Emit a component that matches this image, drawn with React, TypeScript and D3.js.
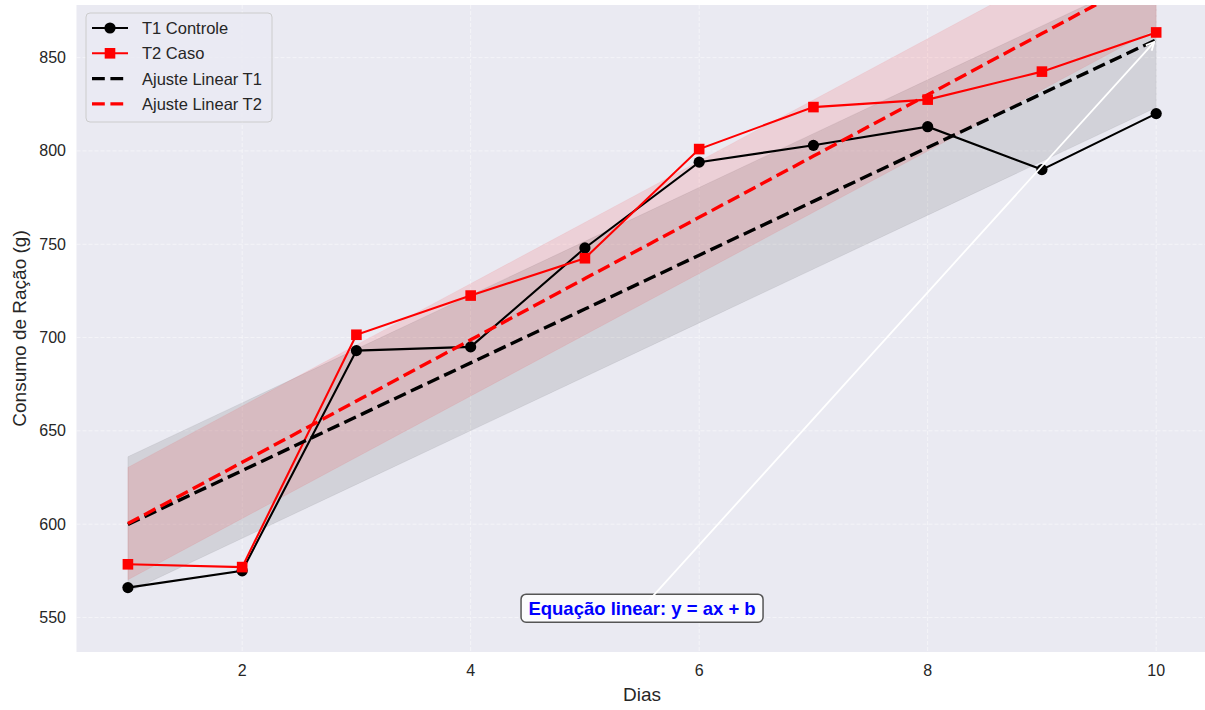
import React from "react";
import * as d3 from "d3";

const days = [1, 2, 3, 4, 5, 6, 7, 8, 9, 10];
const t1Values = [566, 575, 693, 695, 748, 794, 803, 813, 790, 820];
const t2Values = [578.5, 577, 701.5, 722.5, 742.5, 801, 823.5, 827.5, 842.5, 863.5];
const xTicks = [2, 4, 6, 8, 10];
const yTicks = [550, 600, 650, 700, 750, 800, 850];
const legendLabels = ["T1 Controle", "T2 Caso", "Ajuste Linear T1", "Ajuste Linear T2"];
const xLabel = "Dias";
const yLabel = "Consumo de Ração (g)";
const annotationText = "Equação linear: y = ax + b";

const W = 1205;
const H = 710;
const FONT = "'Liberation Sans', Arial, sans-serif";

function linFit(xs: number[], ys: number[]) {
  const mx = d3.mean(xs)!;
  const my = d3.mean(ys)!;
  let sxy = 0, sxx = 0;
  xs.forEach((x, i) => { sxy += (x - mx) * (ys[i] - my); sxx += (x - mx) * (x - mx); });
  const a = sxy / sxx;
  const b = my - a * mx;
  const res = ys.map((y, i) => y - (a * xs[i] + b));
  const sd = Math.sqrt(d3.mean(res.map(r => r * r))!);
  return { a, b, sd, f: (x: number) => a * x + b };
}

export default function App() {
  const x = d3.scaleLinear().domain([0.55, 10.45]).range([76.5, 1207.6]);
  const y = d3.scaleLinear().domain([531.5, 878.2]).range([652, 5]);
  const plotL = 76.5, plotT = 5, plotB = 652, plotR = 1205;

  const fit1 = linFit(days, t1Values);
  const fit2 = linFit(days, t2Values);

  const line = d3.line<[number, number]>().x(d => x(d[0])).y(d => y(d[1]));
  const area = (fit: ReturnType<typeof linFit>) =>
    d3.area<number>()
      .x(d => x(d))
      .y0(d => y(fit.f(d) - fit.sd))
      .y1(d => y(fit.f(d) + fit.sd))(days)!;

  const t1Pts = days.map((d, i) => [d, t1Values[i]] as [number, number]);
  const t2Pts = days.map((d, i) => [d, t2Values[i]] as [number, number]);
  const fit1Pts = days.map(d => [d, fit1.f(d)] as [number, number]);
  const fit2Pts = days.map(d => [d, fit2.f(d)] as [number, number]);

  // annotation
  const tx = x(5.5), ty = y(555);
  const ax = x(10), ay = y(fit1.f(10));
  const ang = Math.atan2(ay - ty, ax - tx);
  const ex = ax - 3 * Math.cos(ang), ey = ay - 3 * Math.sin(ang);
  const hl = 9, hw = 0.45;
  const h1x = ex - hl * Math.cos(ang - hw), h1y = ey - hl * Math.sin(ang - hw);
  const h2x = ex - hl * Math.cos(ang + hw), h2y = ey - hl * Math.sin(ang + hw);

  const lw = 2.1;
  const dashLw = 3.4;

  return (
    <svg width={W} height={H} style={{ position: "fixed", left: 0, top: 0, background: "#fff" }} fontFamily={FONT}>
      <defs>
        <clipPath id="plotclip">
          <rect x={plotL} y={plotT} width={plotR - plotL} height={plotB - plotT} />
        </clipPath>
      </defs>
      <rect x={plotL} y={plotT} width={plotR - plotL} height={plotB - plotT} fill="#eaeaf2" />
      {/* grid */}
      <g stroke="#ffffff" strokeOpacity={0.5} strokeWidth={1} strokeDasharray="4,2">
        {xTicks.map(t => <line key={"gx" + t} x1={x(t)} x2={x(t)} y1={plotT} y2={plotB} />)}
        {yTicks.map(t => <line key={"gy" + t} x1={plotL} x2={plotR} y1={y(t)} y2={y(t)} />)}
      </g>
      <g clipPath="url(#plotclip)">
        <path d={area(fit1)} fill="#000" fillOpacity={0.1} stroke="#000" strokeOpacity={0.06} strokeWidth={1} />
        <path d={area(fit2)} fill="#ff0000" fillOpacity={0.11} stroke="#ff0000" strokeOpacity={0.06} strokeWidth={1} />
        <path d={line(t1Pts)!} fill="none" stroke="#000" strokeWidth={lw} />
        {t1Pts.map((p, i) => <circle key={"c" + i} cx={x(p[0])} cy={y(p[1])} r={5.6} fill="#000" />)}
        <path d={line(t2Pts)!} fill="none" stroke="#ff0000" strokeWidth={lw} />
        {t2Pts.map((p, i) => <rect key={"s" + i} x={x(p[0]) - 5.3} y={y(p[1]) - 5.3} width={10.6} height={10.6} fill="#ff0000" />)}
        <path d={line(fit1Pts)!} fill="none" stroke="#000" strokeWidth={dashLw} strokeDasharray="12.8,5.6" />
        <path d={line(fit2Pts)!} fill="none" stroke="#ff0000" strokeWidth={dashLw} strokeDasharray="12.8,5.6" />
      </g>
      {/* ticks */}
      <g fontSize={16} fill="#262626">
        {xTicks.map(t => <text key={"xt" + t} x={x(t)} y={676} textAnchor="middle">{t}</text>)}
        {yTicks.map(t => <text key={"yt" + t} x={66} y={y(t)} textAnchor="end" dominantBaseline="central">{t}</text>)}
      </g>
      <text x={(plotL + 1207.6) / 2} y={701} textAnchor="middle" fontSize={19} fill="#262626">{xLabel}</text>
      <text transform={`translate(26,${(plotT + plotB) / 2}) rotate(-90)`} textAnchor="middle" fontSize={19} fill="#262626">{yLabel}</text>
      {/* annotation */}
      <rect x={tx - 121} y={ty - 14} width={242} height={28} rx={5} fill="#fff" fillOpacity={0.8} stroke="#555" strokeWidth={1.5} />
      <text x={tx} y={ty} textAnchor="middle" dominantBaseline="central" fontSize={18.5} fontWeight="bold" fill="#0000ff">{annotationText}</text>
      <g stroke="#fff" strokeWidth={1.8} fill="none">
        <line x1={tx} y1={ty} x2={ex} y2={ey} />
        <polyline points={`${h1x},${h1y} ${ex},${ey} ${h2x},${h2y}`} />
      </g>
      {/* legend */}
      <rect x={86} y={13} width={186} height={109} rx={4} fill="#eaeaf2" fillOpacity={0.8} stroke="#cccccc" strokeWidth={1} />
      {legendLabels.map((lab, i) => {
        const ly = 28 + i * 25.3;
        const color = i % 2 === 0 ? "#000" : "#ff0000";
        return (
          <g key={lab}>
            {i < 2 ? (
              <line x1={92} x2={128} y1={ly} y2={ly} stroke={color} strokeWidth={lw} />
            ) : (
              <line x1={92} x2={128} y1={ly} y2={ly} stroke={color} strokeWidth={dashLw} strokeDasharray="12.8,5.6" />
            )}
            {i === 0 && <circle cx={110} cy={ly} r={5.6} fill="#000" />}
            {i === 1 && <rect x={110 - 5.3} y={ly - 5.3} width={10.6} height={10.6} fill="#ff0000" />}
            <text x={142} y={ly} dominantBaseline="central" fontSize={16.5} fill="#262626">{lab}</text>
          </g>
        );
      })}
    </svg>
  );
}
